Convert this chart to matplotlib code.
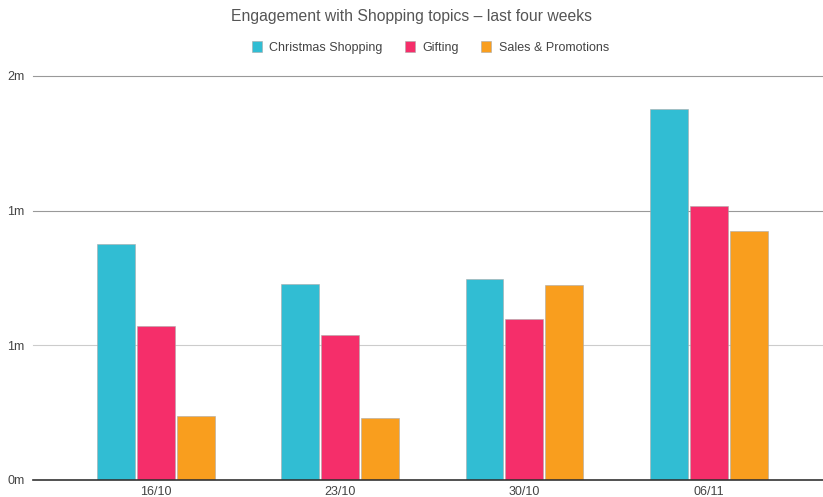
import numpy as np
import matplotlib.pyplot as plt
from matplotlib.ticker import FuncFormatter

plt.rcParams['font.family'] = ['Liberation Sans', 'DejaVu Sans']

weeks = ["16/10", "23/10", "30/10", "06/11"]
christmas = [876000, 728000, 746000, 1378000]
gifting = [572000, 538000, 598000, 1017000]
sales = [238000, 230000, 724000, 925000]

series = [("Christmas Shopping", christmas, "#31bdd3"),
          ("Gifting", gifting, "#f52e6a"),
          ("Sales & Promotions", sales, "#f99e1e")]

fig = plt.figure(figsize=(8.23, 4.97), dpi=100)
ax = fig.add_axes([33/823, 17/497, 790/823, 404/497])

x = np.arange(len(weeks))
w = 0.206
step = 0.217
for i, (name, vals, col) in enumerate(series):
    ax.bar(x + (i - 1) * step, vals, width=w, color=col, edgecolor="#aaaaaa",
           linewidth=0.4, label=name, zorder=3)

ax.set_xlim(-0.667, 3.62)
ax.set_ylim(0, 1500000)
ticks = [0, 500000, 1000000, 1500000]
ax.set_yticks(ticks)
ax.yaxis.set_major_formatter(FuncFormatter(lambda v, p: f"{int(v / 1e6 + 0.5)}m"))
grid_cols = ["#333333", "#cccccc", "#999999", "#999999"]
for t, c in zip(ticks, grid_cols):
    ax.axhline(t, color=c, linewidth=1.2 if t == 0 else 0.8,
               zorder=4 if t == 0 else 1, clip_on=False)

ax.set_xticks(x)
ax.set_xticklabels(weeks)
for s in ax.spines.values():
    s.set_visible(False)
ax.tick_params(axis="both", length=0, labelsize=9, colors="#444444")
ax.tick_params(axis="y", pad=6)
ax.tick_params(axis="x", pad=4)

fig.suptitle("Engagement with Shopping topics \u2013 last four weeks", y=0.982,
             fontsize=11.3, color="#555555")
fig.legend(loc="upper center", bbox_to_anchor=(0.523, 0.94), ncol=3, frameon=False,
           fontsize=9, handlelength=0.8, handleheight=1.0, handletextpad=0.6,
           columnspacing=1.8, labelcolor="#444444")

fig.savefig("out.png", dpi=100)
